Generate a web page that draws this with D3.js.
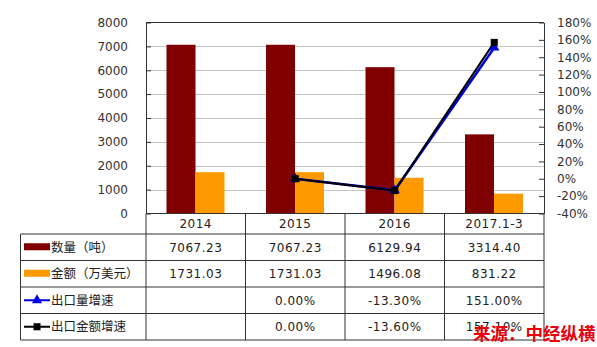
<!DOCTYPE html>
<html><head><meta charset="utf-8">
<script src="https://cdn.jsdelivr.net/npm/d3@7"></script>
<style>body{margin:0;background:#fff}svg{display:block}</style>
</head><body>
<script>
const categories = ["2014","2015","2016","2017.1-3"];
const quantity = [7067.23, 7067.23, 6129.94, 3314.40];
const amount = [1731.03, 1731.03, 1496.08, 831.22];
const qtyGrowth = [null, 0.00, -13.30, 151.00];
const amtGrowth = [null, 0.00, -13.60, 157.10];
const qtyText = ["7067.23","7067.23","6129.94","3314.40"];
const amtText = ["1731.03","1731.03","1496.08","831.22"];
const qtyGrowthText = ["","0.00%","-13.30%","151.00%"];
const amtGrowthText = ["","0.00%","-13.60%","157.10%"];
const rowLabels = ["数量（吨）","金额（万美元）","出口量增速","出口金额增速"];
const leftTicks = [0,1000,2000,3000,4000,5000,6000,7000,8000];
const rightTicks = [-40,-20,0,20,40,60,80,100,120,140,160,180];

const W=597,H=347;
const L=146,R=544,T=22.5,B=213.5;
const svg=d3.select("body").append("svg").attr("width",W).attr("height",H);
const x=d3.scaleBand().domain(categories).range([L,R]);
const y=d3.scaleLinear().domain([0,8000]).range([B,T]);
const yR=d3.scaleLinear().domain([-40,180]).range([B,T]);
const x1=d3.scaleBand().domain(["q","a"]).range([20.5,78.5]);
const font="DejaVu Sans, Verdana, sans-serif";
const cjk="'Noto Sans CJK SC', sans-serif";

// gridlines
svg.append("g").selectAll("line").data(leftTicks.filter(t=>t>0 && t<8000)).join("line")
  .attr("x1",L).attr("x2",R).attr("y1",d=>Math.round(y(d))+0.5).attr("y2",d=>Math.round(y(d))+0.5)
  .attr("stroke","#c4c4c4").attr("stroke-width",1);

// bars
const bars=svg.append("g");
bars.selectAll(".q").data(quantity).join("rect")
  .attr("x",(d,i)=>x(categories[i])+x1("q")).attr("width",x1.bandwidth())
  .attr("y",d=>y(d)).attr("height",d=>B-y(d)).attr("fill","#800000");
bars.selectAll(".a").data(amount).join("rect")
  .attr("x",(d,i)=>x(categories[i])+x1("a")).attr("width",x1.bandwidth())
  .attr("y",d=>y(d)).attr("height",d=>B-y(d)).attr("fill","#ff9900");

// axes
const axL=svg.append("g").attr("transform",`translate(${L},0)`)
  .call(d3.axisLeft(y).tickValues(leftTicks).tickSizeInner(-5).tickSizeOuter(0).tickPadding(18).tickFormat(d3.format("d")));
const axR=svg.append("g").attr("transform",`translate(${R},0)`)
  .call(d3.axisRight(yR).tickValues(rightTicks).tickSizeInner(-5).tickSizeOuter(0).tickPadding(13).tickFormat(d=>d+"%"));
[axL,axR].forEach(a=>{
  a.select(".domain").attr("stroke","#333");
  a.selectAll(".tick line").attr("stroke","#333");
  a.selectAll("text").attr("font-family",font).attr("font-size",12).attr("fill","#333");
});
// top border and zero line
svg.append("line").attr("x1",L).attr("x2",R).attr("y1",T).attr("y2",T).attr("stroke","#333");
svg.append("line").attr("x1",L).attr("x2",R).attr("y1",B).attr("y2",B).attr("stroke","#333");

// lines
const cx=i=>x(categories[i])+x.bandwidth()/2;
const line=d3.line().defined(d=>d!=null).x((d,i)=>cx(i)).y(d=>yR(d));
svg.append("path").datum(qtyGrowth).attr("d",line).attr("fill","none").attr("stroke","#0000e0").attr("stroke-width",2.5);
svg.append("path").datum(amtGrowth).attr("d",line).attr("fill","none").attr("stroke","#000").attr("stroke-width",2);
const tri=d3.symbol().type(d3.symbolTriangle).size(45);
const sq=d3.symbol().type(d3.symbolSquare).size(50);
svg.append("g").selectAll("path").data(qtyGrowth.map((v,i)=>({v,i})).filter(d=>d.v!=null)).join("path")
  .attr("d",tri).attr("transform",d=>`translate(${cx(d.i)},${yR(d.v)})`).attr("fill","#0000e0");
svg.append("g").selectAll("path").data(amtGrowth.map((v,i)=>({v,i})).filter(d=>d.v!=null)).join("path")
  .attr("d",sq).attr("transform",d=>`translate(${cx(d.i)},${yR(d.v)})`).attr("fill","#000");

// table
const rowsY=[B,234,260.5,287,313.5,340];
const tL=20.5;
const tg=svg.append("g").attr("stroke","#333").attr("stroke-width",1);
for(let r=1;r<rowsY.length;r++){
  tg.append("line").attr("x1",tL).attr("x2",R).attr("y1",rowsY[r]).attr("y2",rowsY[r]);
}
tg.append("line").attr("x1",tL).attr("x2",tL).attr("y1",rowsY[1]).attr("y2",rowsY[5]);
const cols=[...categories.map(c=>x(c)),R];
cols.forEach(c=>tg.append("line").attr("x1",c).attr("x2",c).attr("y1",B).attr("y2",rowsY[5]));

// header labels
svg.append("g").selectAll("text").data(categories).join("text")
  .attr("x",d=>x(d)+x.bandwidth()/2).attr("y",(rowsY[0]+rowsY[1])/2).attr("dy","0.36em")
  .attr("text-anchor","middle").attr("font-family",font).attr("font-size",12).attr("letter-spacing",0.5)
  .attr("fill","#222").text(d=>d);
const tableData=[qtyText,amtText,qtyGrowthText,amtGrowthText];
tableData.forEach((row,r)=>{
  const yc=(rowsY[r+1]+rowsY[r+2])/2;
  svg.append("g").selectAll("text").data(row).join("text")
    .attr("x",(d,i)=>x(categories[i])+x.bandwidth()/2).attr("y",yc).attr("dy","0.36em")
    .attr("text-anchor","middle").attr("font-family",font).attr("font-size",12).attr("letter-spacing",0.5)
    .attr("fill","#222").text(d=>d);
  svg.append("text").attr("x",51).attr("y",yc).attr("dy","0.36em")
    .attr("font-family",cjk).attr("font-size",12.5).attr("fill","#222").text(rowLabels[r]);
});
// legend keys
const kc=(r)=>(rowsY[r+1]+rowsY[r+2])/2;
svg.append("rect").attr("x",24).attr("y",kc(0)-4).attr("width",26).attr("height",7).attr("fill","#800000");
svg.append("rect").attr("x",24).attr("y",kc(1)-4).attr("width",26).attr("height",7).attr("fill","#ff9900");
svg.append("line").attr("x1",24).attr("x2",50).attr("y1",kc(2)).attr("y2",kc(2)).attr("stroke","#0000e0").attr("stroke-width",2);
svg.append("path").attr("d",tri).attr("transform",`translate(37,${kc(2)})`).attr("fill","#0000e0");
svg.append("line").attr("x1",24).attr("x2",50).attr("y1",kc(3)).attr("y2",kc(3)).attr("stroke","#000").attr("stroke-width",2);
svg.append("path").attr("d",sq).attr("transform",`translate(37,${kc(3)})`).attr("fill","#000");

// watermark
svg.append("text").attr("x",473).attr("y",340).attr("font-family",cjk).attr("font-weight","bold")
  .attr("font-size",17.5).attr("fill","#e8000b").text("来源：中经纵横");
</script>
</body></html>
